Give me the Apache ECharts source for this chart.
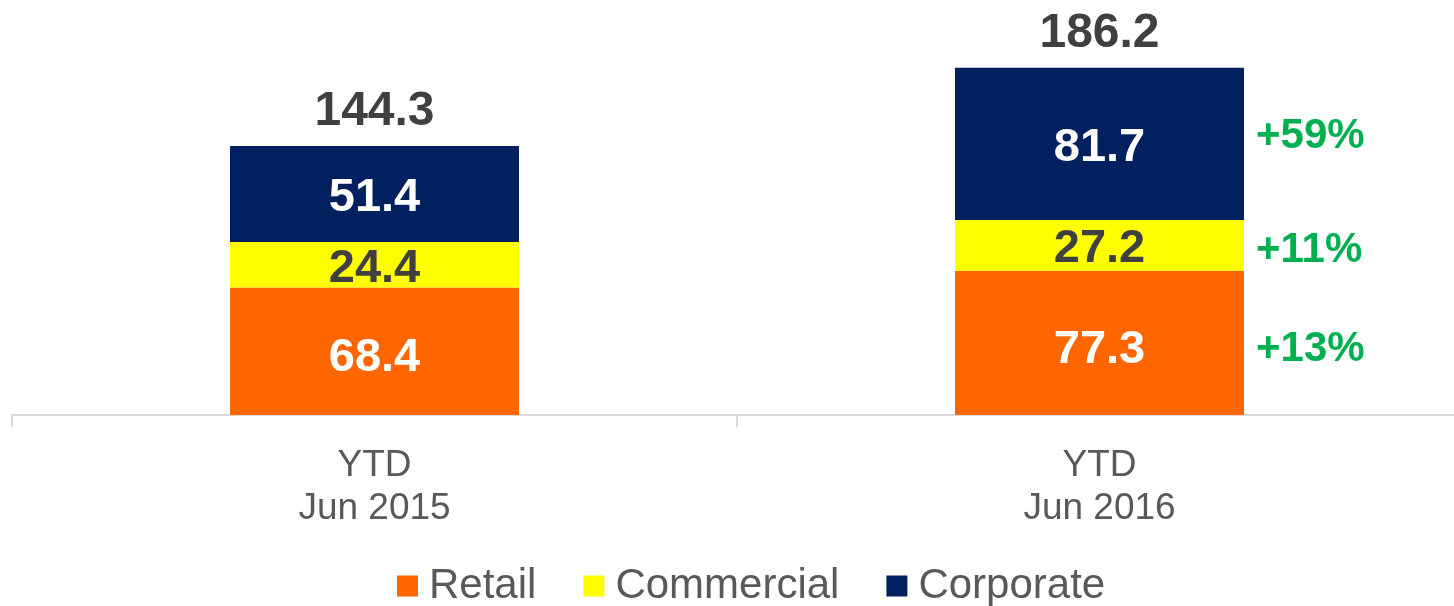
<!DOCTYPE html>
<html>
<head>
<meta charset="utf-8">
<script src="https://cdn.jsdelivr.net/npm/echarts@6/dist/echarts.min.js"></script>
<style>
html,body{margin:0;padding:0;background:#fff;}
#chart{width:1454px;height:606px;}
</style>
</head>
<body>
<div id="chart"></div>
<script>
const categories = ['YTD\nJun 2015', 'YTD\nJun 2016'];
const retail = [68.4, 77.3];
const commercial = [24.4, 27.2];
const corporate = [51.4, 81.7];
const totals = [144.3, 186.2];
const growthRetail = ['', '+13%'];
const growthCommercial = ['', '+11%'];
const growthCorporate = ['', '+59%'];

const FONT = "'Liberation Sans', Arial, sans-serif";
const BW = 289;

function segLabel(color, dy) {
  return {
    show: true, position: 'inside', color: color, offset: [0, dy],
    fontFamily: FONT, fontWeight: 'bold', fontSize: 47,
    formatter: p => p.value.toFixed(1)
  };
}
function growthSeries(name, vals, labels, dy) {
  return {
    name: name, type: 'bar', stack: 'growth', data: vals, barWidth: BW, barGap: '-100%',
    itemStyle: { color: 'rgba(0,0,0,0)' }, silent: true, emphasis: { disabled: true },
    label: {
      show: true, position: 'right', distance: 12, color: '#00B050', offset: [0, dy],
      fontFamily: FONT, fontWeight: 'bold', fontSize: 42,
      formatter: p => labels[p.dataIndex]
    }
  };
}

const chart = echarts.init(document.getElementById('chart'));
chart.setOption({
  animation: false,
  grid: { left: 12, width: 1450, top: 42, bottom: 191, containLabel: false, outerBoundsMode: 'none' },
  legend: {
    data: ['Retail', 'Commercial', 'Corporate'],
    left: 392, top: 560, icon: 'rect', itemWidth: 21, itemHeight: 21, itemGap: 47,
    textStyle: { fontFamily: FONT, fontSize: 42, color: '#595959', padding: [0, 0, 0, 6] }
  },
  xAxis: {
    type: 'category', data: categories,
    axisLine: { lineStyle: { color: '#D9D9D9', width: 2 } },
    axisTick: { show: true, length: 12, lineStyle: { color: '#D9D9D9', width: 2 } },
    axisLabel: { fontFamily: FONT, fontSize: 37, color: '#595959', lineHeight: 43, margin: 29 }
  },
  yAxis: { type: 'value', min: 0, max: 200, show: false, splitLine: { show: false } },
  series: [
    { name: 'Retail', type: 'bar', stack: 'total', data: retail, barWidth: BW, barGap: '-100%',
      itemStyle: { color: '#FF6600' }, label: segLabel('#FFFFFF', 7) },
    { name: 'Commercial', type: 'bar', stack: 'total', data: commercial, barWidth: BW, barGap: '-100%',
      itemStyle: { color: '#FFFF00' }, label: segLabel('#404040', 4) },
    { name: 'Corporate', type: 'bar', stack: 'total', data: corporate, barWidth: BW, barGap: '-100%',
      itemStyle: { color: '#002060' }, label: segLabel('#FFFFFF', 4) },
    { name: 'Total', type: 'bar', data: totals, barWidth: BW, barGap: '-100%', z: 1,
      itemStyle: { color: 'rgba(0,0,0,0)' }, silent: true, emphasis: { disabled: true },
      label: { show: true, position: 'top', distance: 10, color: '#404040',
        fontFamily: FONT, fontWeight: 'bold', fontSize: 48, formatter: p => p.value.toFixed(1) } },
    growthSeries('gRetail', retail, growthRetail, 7),
    growthSeries('gCommercial', commercial, growthCommercial, 5),
    growthSeries('gCorporate', corporate, growthCorporate, -8)
  ]
});
</script>
</body>
</html>
